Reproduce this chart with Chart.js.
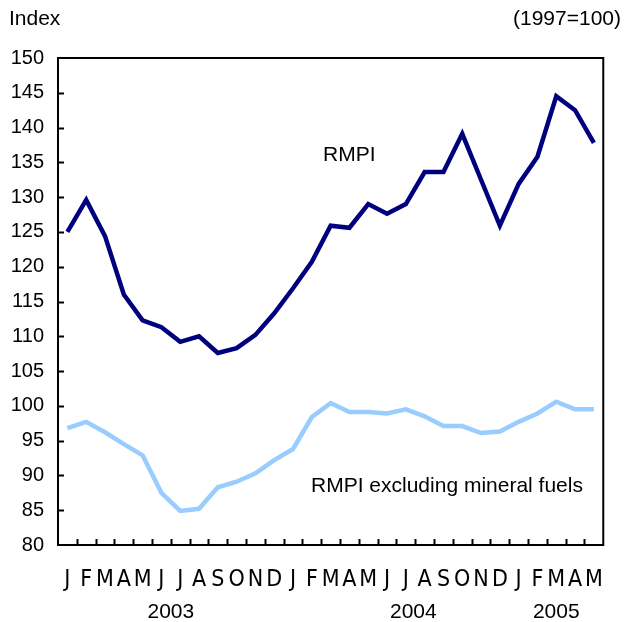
<!DOCTYPE html>
<html>
<head>
<meta charset="utf-8">
<script src="https://cdn.jsdelivr.net/npm/chart.js@4/dist/chart.umd.min.js"></script>
<style>
  html, body { margin: 0; padding: 0; background: #fff; }
  #wrap { position: relative; width: 624px; height: 622px; }
</style>
</head>
<body>
<div id="wrap"><canvas id="myChart" width="624" height="622"></canvas></div>
<script>
// months Jan 2003 - May 2005
const months = ['J','F','M','A','M','J','J','A','S','O','N','D',
                'J','F','M','A','M','J','J','A','S','O','N','D',
                'J','F','M','A','M'];
const years = ['2003', '2004', '2005'];
const yearPos = [5.5, 18.4, 26];   // category index the year label sits under

const rmpi = [125.0, 129.6, 124.4, 116.0, 112.3, 111.3, 109.2, 110.0, 107.6, 108.3, 110.2, 113.3,
              116.9, 120.7, 125.9, 125.6, 129.0, 127.6, 129.0, 133.6, 133.6, 139.1, 132.5, 125.9,
              131.9, 135.8, 144.5, 142.5, 137.8];
const rmpiExFuels = [96.8, 97.7, 96.2, 94.5, 92.9, 87.5, 84.9, 85.2, 88.3, 89.1, 90.3, 92.2,
                     93.8, 98.4, 100.4, 99.1, 99.1, 98.9, 99.5, 98.5, 97.1, 97.1, 96.1, 96.3,
                     97.7, 98.9, 100.6, 99.5, 99.5];

const FONT = '"Liberation Sans", Arial, sans-serif';
const NARROW = '"Liberation Sans Narrow", "Arial Narrow", "DejaVu Sans Condensed", sans-serif';

// box, inward ticks, titles and series labels
const decor = {
  id: 'decor',
  afterDraw(chart) {
    const ctx = chart.ctx;
    const a = chart.chartArea;
    const x = chart.scales.x, y = chart.scales.y;
    ctx.save();
    ctx.strokeStyle = '#000';
    ctx.lineWidth = 2;
    ctx.strokeRect(a.left, a.top, a.right - a.left, a.bottom - a.top);
    ctx.beginPath();
    for (let v = 85; v < 150; v += 5) {
      const py = Math.round(y.getPixelForValue(v)) + 0.5;
      ctx.moveTo(a.left, py);
      ctx.lineTo(a.left + 6, py);
    }
    for (let i = 1; i < months.length; i++) {
      const px = Math.round(x.getPixelForValue(i - 0.5)) + 0.5;
      ctx.moveTo(px, a.bottom);
      ctx.lineTo(px, a.bottom - 6);
    }
    ctx.stroke();

    ctx.fillStyle = '#000';
    ctx.font = '21px ' + FONT;
    ctx.textBaseline = 'middle';
    ctx.textAlign = 'left';
    ctx.fillText('Index', 9, 19);
    ctx.textAlign = 'right';
    ctx.fillText('(1997=100)', 621, 19);

    ctx.textAlign = 'center';
    years.forEach((t, i) => ctx.fillText(t, x.getPixelForValue(yearPos[i]), 612));

    ctx.textAlign = 'left';
    ctx.fillText('RMPI', 323, 155);
    ctx.fillText('RMPI excluding mineral fuels', 311, 486);
    ctx.restore();
  }
};

new Chart(document.getElementById('myChart').getContext('2d'), {
  type: 'line',
  data: {
    labels: months,
    datasets: [
      {
        label: 'RMPI',
        data: rmpi,
        borderColor: '#00007f',
        borderWidth: 4.5,
        pointRadius: 0,
        fill: false,
        tension: 0
      },
      {
        label: 'RMPI excluding mineral fuels',
        data: rmpiExFuels,
        borderColor: '#99ccff',
        borderWidth: 4.5,
        pointRadius: 0,
        fill: false,
        tension: 0
      }
    ]
  },
  options: {
    responsive: false,
    animation: false,
    layout: { padding: { top: 58, right: 12, left: 0, bottom: 0 } },
    plugins: {
      legend: { display: false },
      tooltip: { enabled: false }
    },
    scales: {
      x: {
        type: 'category',
        offset: true,
        grid: { display: false, drawTicks: false },
        border: { display: false },
        ticks: {
          color: '#000',
          font: { family: NARROW, size: 23 },
          padding: 21,
          maxRotation: 0,
          autoSkip: false
        },
        afterFit(s) { s.height = 77; }
      },
      y: {
        min: 80,
        max: 150,
        grid: { display: false, drawTicks: false },
        border: { display: false },
        ticks: {
          stepSize: 5,
          color: '#000',
          font: { family: FONT, size: 20 },
          padding: 14
        },
        afterFit(s) { s.width = 58; }
      }
    }
  },
  plugins: [decor]
});
</script>
</body>
</html>
